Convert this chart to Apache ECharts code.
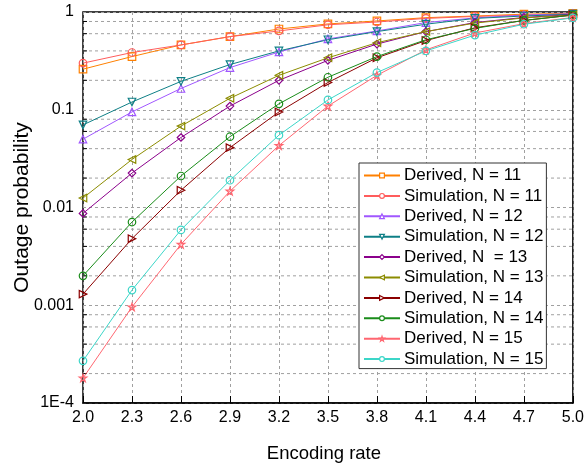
<!DOCTYPE html>
<html>
<head>
<meta charset="utf-8">
<script src="https://cdn.jsdelivr.net/npm/echarts@6/dist/echarts.min.js"></script>
<style>
  html, body { margin: 0; padding: 0; background: #fff; }
  #chart { width: 587px; height: 468px; }
</style>
</head>
<body>
<div id="chart"></div>
<script>
  // encoding rates (x categories)
  const rates = ['2.0', '2.3', '2.6', '2.9', '3.2', '3.5', '3.8', '4.1', '4.4', '4.7', '5.0'];

  // outage probability
  const derived11 = [0.26, 0.35, 0.46, 0.56, 0.67, 0.755, 0.81, 0.875, 0.91, 0.95, 0.97];
  const sim11 = [0.30, 0.385, 0.46, 0.56, 0.64, 0.74, 0.79, 0.86, 0.90, 0.93, 0.95];
  const derived12 = [0.05, 0.095, 0.165, 0.27, 0.39, 0.53, 0.64, 0.78, 0.87, 0.93, 0.96];
  const sim12 = [0.07, 0.12, 0.195, 0.29, 0.40, 0.52, 0.63, 0.75, 0.86, 0.91, 0.95];
  const derived13 = [0.0087, 0.0225, 0.052, 0.109, 0.20, 0.32, 0.47, 0.63, 0.78, 0.88, 0.94];
  const sim13 = [0.0125, 0.031, 0.068, 0.131, 0.225, 0.34, 0.485, 0.63, 0.77, 0.87, 0.93];
  const derived14 = [0.0013, 0.0048, 0.015, 0.041, 0.095, 0.19, 0.34, 0.51, 0.69, 0.82, 0.93];
  const sim14 = [0.002, 0.0071, 0.021, 0.053, 0.115, 0.215, 0.35, 0.52, 0.68, 0.82, 0.93];
  const derived15 = [0.00018, 0.00096, 0.0042, 0.0147, 0.043, 0.109, 0.225, 0.41, 0.61, 0.76, 0.88];
  const sim15 = [0.00027, 0.00143, 0.0059, 0.019, 0.055, 0.126, 0.24, 0.40, 0.58, 0.75, 0.87];

  // y tick labels, one per decade from 1E-4 up to 1
  const yTickLabels = ['1E-4', '0.001', '0.01', '0.1', '1'];
  // minor grid lines (2,4,6,8 in each decade)
  const minorValues = [2e-4, 4e-4, 6e-4, 8e-4, 2e-3, 4e-3, 6e-3, 8e-3, 0.02, 0.04, 0.06, 0.08, 0.2, 0.4, 0.6, 0.8];

  const starPath = 'path://M50,0 L61.8,35.4 L100,35.4 L69.1,57.3 L80.9,95.1 L50,73.2 L19.1,95.1 L30.9,57.3 L0,35.4 L38.2,35.4 Z';

  const lines = [
    {name: 'Derived, N = 11', data: derived11, color: '#ff8000', symbol: 'rect', rotate: 0},
    {name: 'Simulation, N = 11', data: sim11, color: '#ff5c5c', symbol: 'circle', rotate: 0},
    {name: 'Derived, N = 12', data: derived12, color: '#a057ff', symbol: 'triangle', rotate: 0},
    {name: 'Simulation, N = 12', data: sim12, color: '#0e7f86', symbol: 'triangle', rotate: 180},
    {name: 'Derived, N  = 13', data: derived13, color: '#8b008b', symbol: 'diamond', rotate: 0},
    {name: 'Simulation, N = 13', data: sim13, color: '#8c8c00', symbol: 'triangle', rotate: 90},
    {name: 'Derived, N = 14', data: derived14, color: '#8b0000', symbol: 'triangle', rotate: -90},
    {name: 'Simulation, N = 14', data: sim14, color: '#1a8c1a', symbol: 'circle', rotate: 0},
    {name: 'Derived, N = 15', data: derived15, color: '#ff6670', symbol: starPath, rotate: 0},
    {name: 'Simulation, N = 15', data: sim15, color: '#3cd6c8', symbol: 'circle', rotate: 0}
  ];

  const chart = echarts.init(document.getElementById('chart'));

  const series = lines.map(function (l) {
    return {
      name: l.name,
      type: 'line',
      data: l.data,
      symbol: l.symbol,
      symbolSize: 7.5,
      symbolRotate: l.rotate,
      showAllSymbol: true,
      lineStyle: {color: l.color, width: 1},
      itemStyle: {color: 'rgba(255,255,255,0)', borderColor: l.color, borderWidth: 1.2},
      emphasis: {disabled: true},
      z: 3
    };
  });

  // minor grid lines + minor ticks on the left axis
  series.push({
    type: 'custom',
    silent: true,
    z: 1,
    data: minorValues.map(function (v) { return [0, v]; }),
    renderItem: function (params, api) {
      const cs = params.coordSys;
      const p = api.coord([api.value(0), api.value(1)]);
      return {
        type: 'group',
        children: [
          {
            type: 'line',
            shape: {x1: cs.x, y1: p[1], x2: cs.x + cs.width, y2: p[1]},
            style: {stroke: '#a0a0a0', lineWidth: 1, lineDash: [3, 3]}
          },
          {
            type: 'line',
            shape: {x1: cs.x, y1: p[1], x2: cs.x + 4, y2: p[1]},
            style: {stroke: '#000', lineWidth: 1}
          }
        ]
      };
    }
  });

  chart.setOption({
    animation: false,
    textStyle: {fontFamily: 'Liberation Sans, Arial, sans-serif'},
    grid: {
      left: 83, right: 12, top: 12, bottom: 60,
      show: true, borderColor: '#000', borderWidth: 1.5
    },
    legend: {
      orient: 'vertical',
      left: 359,
      top: 163,
      itemWidth: 36,
      itemHeight: 6,
      itemGap: 3.4,
      padding: [4, 3, 1, 4],
      borderColor: '#333',
      borderWidth: 1,
      borderRadius: 0,
      backgroundColor: '#fff',
      itemStyle: {color: '#fff', borderWidth: 1.2},
      textStyle: {fontSize: 17, color: '#000', padding: [0, 0, 0, -1]},
      data: lines.map(function (l) { return l.name; })
    },
    xAxis: {
      type: 'category',
      data: rates,
      boundaryGap: false,
      name: 'Encoding rate',
      nameLocation: 'middle',
      nameGap: 41,
      nameMoveOverlap: false,
      nameTextStyle: {fontSize: 18.5, color: '#000', padding: [0, 8, 0, 0]},
      axisLine: {lineStyle: {color: '#000', width: 1.5}},
      axisTick: {inside: true, length: 7, lineStyle: {color: '#000'}},
      axisLabel: {fontSize: 16, color: '#000', margin: 7},
      splitLine: {show: true, lineStyle: {color: '#a0a0a0', type: [3, 3], width: 1}}
    },
    yAxis: {
      type: 'log',
      logBase: 10,
      min: 1e-4,
      max: 1,
      name: 'Outage probability',
      nameLocation: 'middle',
      nameGap: 50,
      nameMoveOverlap: false,
      nameTextStyle: {fontSize: 21, color: '#000'},
      axisLine: {lineStyle: {color: '#000', width: 1.5}},
      axisTick: {inside: true, length: 7, lineStyle: {color: '#000'}},
      axisLabel: {
        fontSize: 16, color: '#000', margin: 9,
        formatter: function (v) {
          return yTickLabels[Math.round(Math.log10(v)) + 4];
        }
      },
      splitLine: {show: true, lineStyle: {color: '#a0a0a0', type: [3, 3], width: 1}},
      minorTick: {show: false},
      minorSplitLine: {show: false}
    },
    series: series
  });
</script>
</body>
</html>
